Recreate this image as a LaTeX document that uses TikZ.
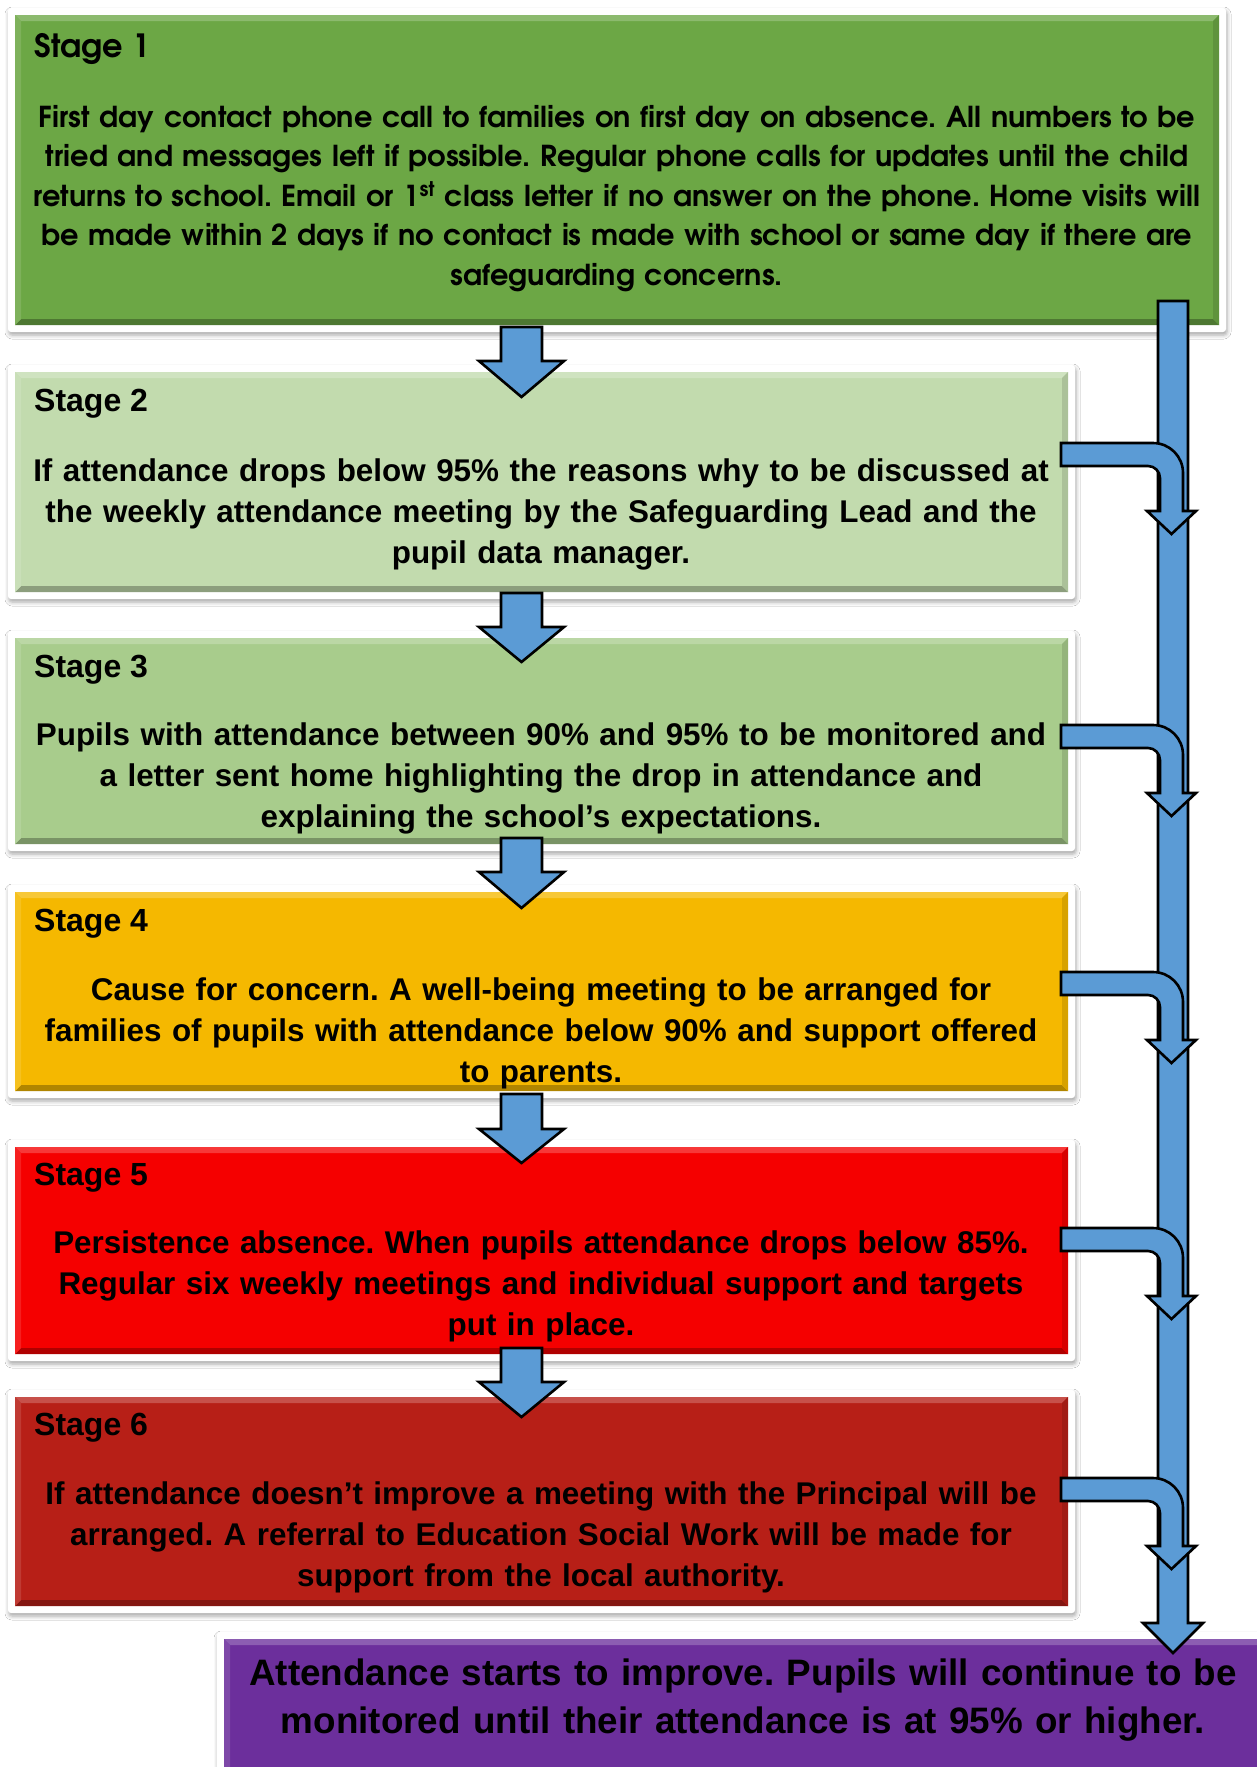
\documentclass[tikz,border=0pt]{standalone}
\usepackage{fontspec}
\setmainfont{Liberation Sans}
\newfontfamily\gothic{TeX Gyre Adventor}
\usetikzlibrary{shadows.blur,fit,calc}
\definecolor{cOne}{HTML}{6CA745}
\definecolor{cTwo}{HTML}{C2DBAE}
\definecolor{cThree}{HTML}{A8CC8C}
\definecolor{cFour}{HTML}{F5B800}
\definecolor{cFive}{HTML}{F50000}
\definecolor{cSix}{HTML}{B71F17}
\definecolor{cPurple}{HTML}{6C2F9C}
\definecolor{arrowblue}{HTML}{5B9BD5}
\tikzset{
  stageframe/.style={fill=white, rounded corners=3pt,
    blur shadow={shadow xshift=1pt, shadow yshift=-3pt, shadow blur radius=4pt, shadow opacity=35}},
  stagefill/.style={inner sep=0pt, outer sep=0pt, draw=none},
  stagetitle/.style={anchor=base west, inner sep=0pt, font=\bfseries\fontsize{32}{38}\selectfont},
  bodytext/.style={anchor=base, inner sep=0pt, align=center, text width=1240pt,
    font=\bfseries\fontsize{31.4}{41}\selectfont},
  blockarrow/.style={fill=arrowblue, draw=black, line width=2.6pt, line join=miter},
}
% #1 name, #2 x1, #3 y1, #4 x2, #5 y2, #6 colour
\newcommand\stagebox[6]{%
  \path[stageframe] (#2-7,#3-7) rectangle (#4+7,#5+7);
  \node[stagefill, fill=#6, fit={(#2,#3) (#4,#5)}] (#1) {};
  \fill[#6!78!white] (#1.north west) -- (#1.north east) -- ++(-6,6) -- ($(#1.north west)+(6,6)$) -- cycle;
  \fill[#6!72!black] (#1.south west) -- (#1.south east) -- ++(-6,-6) -- ($(#1.south west)+(6,-6)$) -- cycle;
  \fill[#6!88!white] (#1.north west) -- ($(#1.north west)+(6,6)$) -- ($(#1.south west)+(6,-6)$) -- (#1.south west) -- cycle;
  \fill[#6!88!black] (#1.north east) -- ($(#1.north east)+(-6,6)$) -- ($(#1.south east)+(-6,-6)$) -- (#1.south east) -- cycle;
}
% #1 x centre, #2 top, #3 head base, #4 tip
\newcommand\downblock[4]{%
  \draw[blockarrow] (#1-20.5,#2) -- (#1+20.5,#2) -- (#1+20.5,#3) -- (#1+42.5,#3) -- (#1,#4)
    -- (#1-42.5,#3) -- (#1-20.5,#3) -- cycle;
}
% #1 top of the horizontal band
\newcommand\bentblock[1]{%
  \draw[blockarrow] (1061,#1) -- (1153,#1) .. controls (1169.6,#1) and (1183,#1+13.4) .. (1183,#1+30)
    -- (1183,#1+68) -- (1196,#1+68) -- (1171.5,#1+91) -- (1147,#1+68) -- (1160,#1+68) -- (1160,#1+35)
    .. controls (1160,#1+28.4) and (1154.6,#1+23) .. (1148,#1+23) -- (1061,#1+23) -- cycle;
}
\frenchspacing
\begin{document}
\begin{tikzpicture}[x=1pt,y=-1pt]
\useasboundingbox[fill=white] (0,0) rectangle (1256,1767);

\stagebox{s1}{15}{15}{1219}{325}{cOne}
\stagebox{s2}{15}{372}{1068}{592}{cTwo}
\stagebox{s3}{15}{638}{1068}{844}{cThree}
\stagebox{s4}{15}{892}{1068}{1091}{cFour}
\stagebox{s5}{15}{1147}{1068}{1354}{cFive}
\stagebox{s6}{15}{1397}{1068}{1606}{cSix}
\stagebox{sp}{224}{1639}{1290}{1800}{cPurple}

\node[stagetitle, font=\gothic\bfseries\fontsize{32}{38}\selectfont] (t1) at (34,57) {Stage 1};
\node[bodytext, font=\gothic\bfseries\fontsize{28.8}{39.5}\selectfont] (b1) at (617,127)
  {\frenchspacing First day contact phone call to families on first day on absence. All numbers to be\\
   tried and messages left if possible. Regular phone calls for updates until the child\\
   returns to school. Email or 1\textsuperscript{st} class letter if no answer on the phone. Home visits will\\
   be made within 2 days if no contact is made with school or same day if there are\\
   safeguarding concerns.};

\node[stagetitle] (t2) at (34,411) {Stage 2};
\node[bodytext] (b2) at (541,481)
  {If attendance drops below 95\% the reasons why to be discussed at\\
   the weekly attendance meeting by the Safeguarding Lead and the\\
   pupil data manager.};

\node[stagetitle] (t3) at (34,677) {Stage 3};
\node[bodytext] (b3) at (541,745)
  {Pupils with attendance between 90\% and 95\% to be monitored and\\
   a letter sent home highlighting the drop in attendance and\\
   explaining the school’s expectations.};

\node[stagetitle] (t4) at (34,931) {Stage 4};
\node[bodytext] (b4) at (541,1000)
  {\frenchspacing Cause for concern. A well-being meeting to be arranged for\\
   families of pupils with attendance below 90\% and support offered\\
   to parents.};

\node[stagetitle] (t5) at (34,1185) {Stage 5};
\node[bodytext] (b5) at (541,1253)
  {\frenchspacing Persistence absence. When pupils attendance drops below 85\%.\\
   Regular six weekly meetings and individual support and targets\\
   put in place.};

\node[stagetitle] (t6) at (34,1435) {Stage 6};
\node[bodytext] (b6) at (541,1504)
  {\frenchspacing If attendance doesn’t improve a meeting with the Principal will be\\
   arranged. A referral to Education Social Work will be made for\\
   support from the local authority.};

\node[bodytext, font=\bfseries\fontsize{36.8}{48}\selectfont] (bp) at (743,1685)
  {\frenchspacing Attendance starts to improve. Pupils will continue to be\\
   monitored until their attendance is at 95\% or higher.};

\downblock{521.5}{327}{361}{397}
\downblock{521.5}{593}{627}{662}
\downblock{521.5}{838}{872}{908}
\downblock{521.5}{1094}{1129}{1163}
\downblock{521.5}{1348}{1382}{1417}

\draw[blockarrow] (1158,301) -- (1188,301) -- (1188,1623) -- (1203,1623) -- (1173,1653)
  -- (1143,1623) -- (1158,1623) -- cycle;

\bentblock{443}
\bentblock{725}
\bentblock{972}
\bentblock{1228}
\bentblock{1478}
\end{tikzpicture}
\end{document}
